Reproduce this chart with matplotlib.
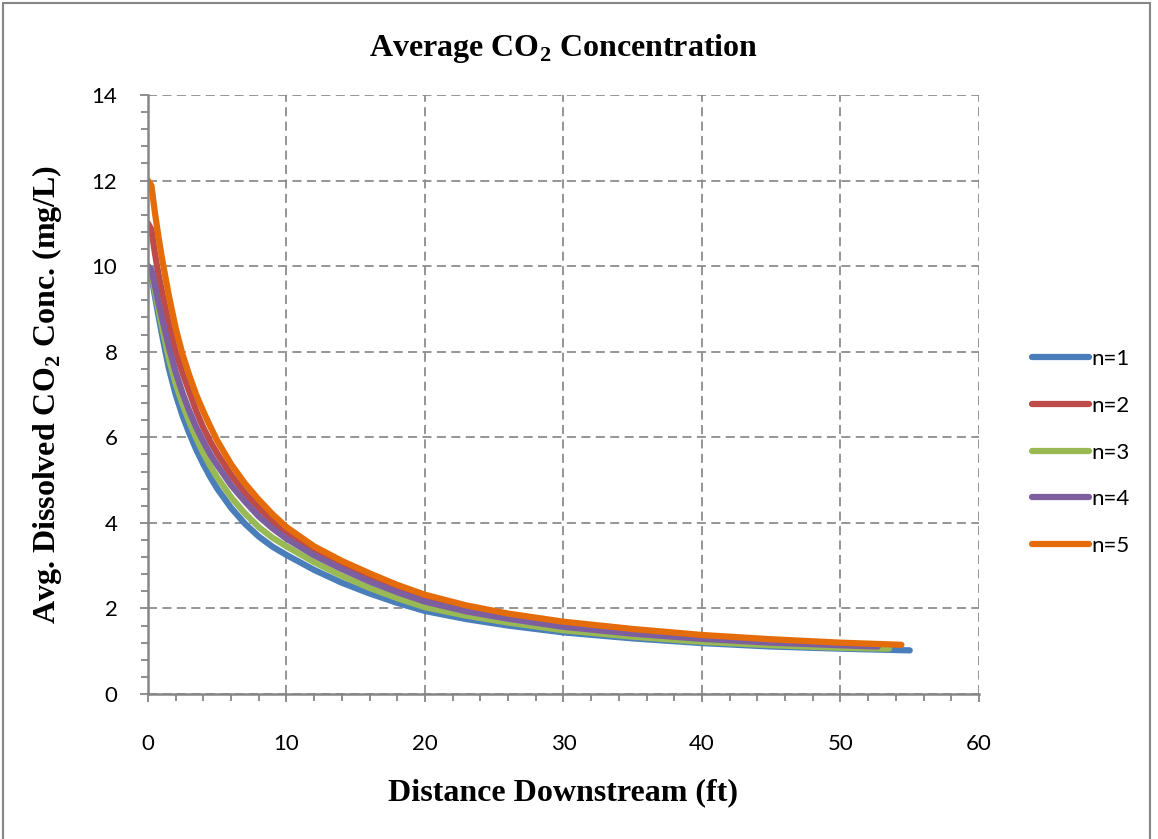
import matplotlib
matplotlib.use("Agg")
import matplotlib.pyplot as plt
from matplotlib.ticker import MultipleLocator
from matplotlib.patches import Rectangle

plt.rcParams['mathtext.fontset'] = 'custom'
plt.rcParams['mathtext.rm'] = 'Liberation Serif:bold'
plt.rcParams['mathtext.bf'] = 'Liberation Serif:bold'

# values
x_n1 = [0, 0.25, 0.5, 0.75, 1, 1.5, 2, 2.5, 3, 3.5, 4, 4.5, 5, 6, 7, 8, 9, 10,
        12, 14, 16, 18, 20, 23, 26, 30, 35, 40, 45, 50, 55]
c_n1 = [10, 9.75, 9.3, 8.85, 8.42, 7.62, 7.0, 6.5, 6.08, 5.7, 5.37, 5.07, 4.8, 4.35, 3.98, 3.68, 3.44, 3.25,
        2.9, 2.6, 2.35, 2.13, 1.94, 1.75, 1.6, 1.44, 1.3, 1.19, 1.11, 1.06, 1.02]

x_n2 = [0, 0.25, 0.5, 0.75, 1, 1.5, 2, 2.5, 3, 3.5, 4, 4.5, 5, 6, 7, 8, 9, 10,
        12, 14, 16, 18, 20, 23, 26, 30, 35, 40, 45, 50, 53]
c_n2 = [11, 10.85, 10.3, 9.82, 9.42, 8.65, 8.0, 7.5, 7.05, 6.6, 6.22, 5.9, 5.62, 5.12, 4.7, 4.35, 4.03, 3.76,
        3.35, 3.02, 2.73, 2.47, 2.24, 2.0, 1.82, 1.63, 1.46, 1.33, 1.24, 1.17, 1.14]

x_n3 = [0, 0.25, 0.5, 0.75, 1, 1.5, 2, 2.5, 3, 3.5, 4, 4.5, 5, 6, 7, 8, 9, 10,
        12, 14, 16, 18, 20, 23, 26, 30, 35, 40, 45, 50, 53.5]
c_n3 = [10, 9.82, 9.42, 9.0, 8.6, 7.85, 7.25, 6.77, 6.35, 5.97, 5.63, 5.33, 5.06, 4.6, 4.22, 3.9, 3.65, 3.45,
        3.08, 2.76, 2.48, 2.24, 2.03, 1.83, 1.67, 1.49, 1.34, 1.22, 1.14, 1.08, 1.06]

x_n4 = [0, 0.25, 0.5, 0.75, 1, 1.5, 2, 2.5, 3, 3.5, 4, 4.5, 5, 6, 7, 8, 9, 10,
        12, 14, 16, 18, 20, 23, 26, 30, 35, 40, 45, 50, 52.7]
c_n4 = [10, 9.92, 9.55, 9.15, 8.8, 8.12, 7.52, 7.03, 6.6, 6.22, 5.9, 5.6, 5.35, 4.88, 4.5, 4.15, 3.87, 3.63,
        3.24, 2.92, 2.63, 2.38, 2.16, 1.93, 1.76, 1.57, 1.41, 1.29, 1.2, 1.14, 1.11]

x_n5 = [0, 0.25, 0.5, 0.75, 1, 1.5, 2, 2.5, 3, 3.5, 4, 4.5, 5, 6, 7, 8, 9, 10,
        12, 14, 16, 18, 20, 23, 26, 30, 35, 40, 45, 50, 54.4]
c_n5 = [12, 11.88, 11.25, 10.7, 10.2, 9.32, 8.55, 7.93, 7.43, 6.98, 6.6, 6.25, 5.92, 5.37, 4.92, 4.54, 4.2, 3.9,
        3.45, 3.11, 2.82, 2.55, 2.32, 2.07, 1.88, 1.69, 1.52, 1.38, 1.28, 1.2, 1.15]

series = [
    ("n=1", x_n1, c_n1, "#4a7ebb"),
    ("n=2", x_n2, c_n2, "#be4b48"),
    ("n=3", x_n3, c_n3, "#98b954"),
    ("n=4", x_n4, c_n4, "#7d5fa0"),
    ("n=5", x_n5, c_n5, "#e46c0a"),
]

fig = plt.figure(figsize=(11.58, 8.39), dpi=100)
ax = fig.add_axes([0.1278, 0.1728, 0.7176, 0.714])

for label, xs, cs, col in series:
    ax.plot(xs, cs, color=col, lw=4.5, label=label, solid_capstyle='round',
            solid_joinstyle='round')

ax.set_xlim(0, 60)
ax.set_ylim(0, 14)
ax.xaxis.set_major_locator(MultipleLocator(10))
ax.xaxis.set_minor_locator(MultipleLocator(2))
ax.yaxis.set_major_locator(MultipleLocator(2))
ax.yaxis.set_minor_locator(MultipleLocator(0.4))

ax.grid(True, which='major', color='#8c8c8c', linestyle=(0, (5, 3)), lw=1.3)
ax.set_axisbelow(True)
for side in ['top', 'right']:
    ax.spines[side].set_visible(False)
for side in ['left', 'bottom']:
    ax.spines[side].set_color('#868686')
    ax.spines[side].set_linewidth(1.8)

ax.tick_params(which='both', direction='out', color='#868686', width=1.3)
ax.tick_params(which='major', length=6, labelsize=16)
ax.tick_params(which='minor', length=5)
ax.tick_params(axis='x', which='major', pad=23)
ax.tick_params(axis='y', which='major', pad=16)
for t in ax.get_xticklabels() + ax.get_yticklabels():
    t.set_fontfamily('Lato')

ax.set_title("Average CO$_2$ Concentration", fontsize=23, fontweight='bold',
             family='Liberation Serif', pad=28)
ax.set_xlabel("Distance Downstream (ft)", fontsize=23, fontweight='bold',
              family='Liberation Serif', labelpad=17)
ax.set_ylabel("Avg. Dissolved CO$_2$ Conc. (mg/L)", fontsize=23, fontweight='bold',
              family='Liberation Serif', labelpad=20)

leg = ax.legend(loc='center left', bbox_to_anchor=(1.064, 0.403), frameon=False,
                prop={'family': 'Lato', 'size': 16}, handlelength=2.55,
                handletextpad=0.1, labelspacing=1.2, borderpad=0, borderaxespad=0)

fig.patches.append(Rectangle((0.003, -0.01), 0.99, 1.006, transform=fig.transFigure,
                             fill=False, edgecolor='#868686', lw=1.5))

fig.savefig("out.png", dpi=100)
